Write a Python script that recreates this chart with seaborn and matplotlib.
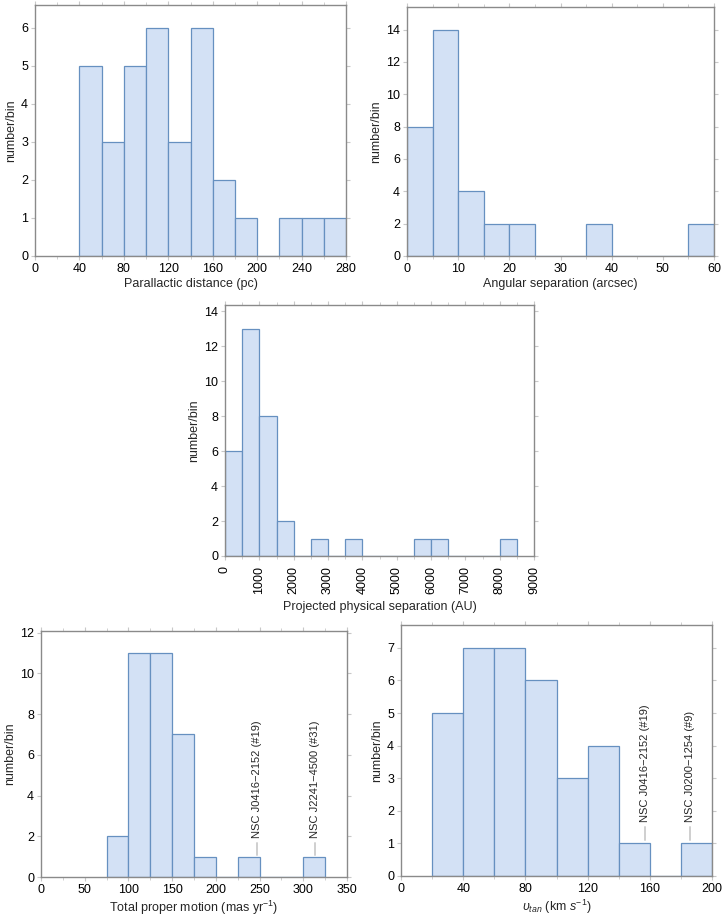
import numpy as np
import pandas as pd
import seaborn as sns
import matplotlib.pyplot as plt
from matplotlib.ticker import MultipleLocator, NullLocator

# histogram counts per bin
dist_edges = list(range(40, 281, 20))
dist_counts = [5, 3, 5, 6, 3, 6, 2, 1, 0, 1, 1, 1]

sep_edges = list(range(0, 61, 5))
sep_counts = [8, 14, 4, 2, 2, 0, 0, 2, 0, 0, 0, 2]

proj_edges = list(range(0, 8501, 500))
proj_counts = [6, 13, 8, 2, 0, 1, 0, 1, 0, 0, 0, 1, 1, 0, 0, 0, 1]

pm_edges = list(range(75, 326, 25))
pm_counts = [2, 11, 11, 7, 1, 0, 1, 0, 0, 1]

vtan_edges = list(range(20, 201, 20))
vtan_counts = [5, 7, 7, 6, 3, 4, 1, 0, 1]

# labelled objects: (x value, name)
pm_notes = [(247, "NSC J0416\u22122152 (#19)"), (313, "NSC J2241\u22124500 (#31)")]
vtan_notes = [(157, "NSC J0416\u22122152 (#19)"), (186, "NSC J0200\u22121254 (#9)")]

sns.set_theme(style="ticks")
plt.rcParams['font.family'] = ['Liberation Sans', 'DejaVu Sans']
plt.rcParams['mathtext.fontset'] = 'custom'
plt.rcParams['mathtext.rm'] = 'Liberation Sans'
plt.rcParams['mathtext.it'] = 'Liberation Sans:italic'

FILL = '#d3e1f5'
EDGE = '#6690c0'
SPINE = '#8a8a8a'
FS = 9

W, H = 725, 917
fig = plt.figure(figsize=(W / 100, H / 100), dpi=100)


def make_ax(left, top, right, bottom):
    return fig.add_axes([left / W, 1 - bottom / H, (right - left) / W, (bottom - top) / H])


def draw_hist(ax, edges, counts, xlim, ylim, xmaj, xmin, ymaj, xlabel):
    centers = [(a + b) / 2 for a, b in zip(edges[:-1], edges[1:])]
    df = pd.DataFrame({'x': centers, 'n': counts})
    sns.histplot(data=df, x='x', weights='n', bins=edges, ax=ax, color=FILL,
                 edgecolor=EDGE, linewidth=0.9, alpha=1)
    ax.set_xlim(*xlim)
    ax.set_ylim(*ylim)
    ax.xaxis.set_major_locator(MultipleLocator(xmaj))
    ax.xaxis.set_minor_locator(MultipleLocator(xmin))
    ax.yaxis.set_major_locator(MultipleLocator(ymaj))
    ax.yaxis.set_minor_locator(NullLocator())
    ax.tick_params(which='both', direction='out', top=True, right=True,
                   color='#c8c8c8', labelsize=FS, pad=2, labelcolor='black')
    ax.tick_params(which='major', length=3, width=0.8)
    ax.tick_params(which='minor', length=2, width=0.6)
    ax.tick_params(labeltop=False, labelright=False)
    for s in ax.spines.values():
        s.set_color(SPINE)
        s.set_linewidth(1.0)
        s.set_visible(True)
    ax.set_xlabel(xlabel, fontsize=FS, labelpad=2)
    ax.set_ylabel('number/bin', fontsize=FS, labelpad=3)


def add_notes(ax, notes, y0, y1, ytext):
    for x, name in notes:
        ax.plot([x, x], [y0, y1], color='#cfcfcf', lw=1.4)
        ax.text(x, ytext, name, rotation=90, ha='center', va='bottom', fontsize=8)


ax1 = make_ax(35, 5, 346, 256)
draw_hist(ax1, dist_edges, dist_counts, (0, 280), (0, 6.6), 40, 20, 1,
          'Parallactic distance (pc)')

ax2 = make_ax(407, 7, 714, 256)
draw_hist(ax2, sep_edges, sep_counts, (0, 60), (0, 15.4), 10, 5, 2,
          'Angular separation (arcsec)')

ax3 = make_ax(225, 305, 534, 556)
draw_hist(ax3, proj_edges, proj_counts, (0, 9000), (0, 14.35), 1000, 500, 2,
          'Projected physical separation (AU)')
ax3.tick_params(axis='x', labelrotation=90, pad=4)
ax3.xaxis.labelpad = 5

ax4 = make_ax(41, 631, 347, 877)
draw_hist(ax4, pm_edges, pm_counts, (0, 350), (0, 12.08), 50, 25, 2,
          'Total proper motion (mas yr$^{-1}$)')
add_notes(ax4, pm_notes, 1.08, 1.67, 1.93)

ax5 = make_ax(401, 625, 712, 876)
draw_hist(ax5, vtan_edges, vtan_counts, (0, 200), (0, 7.7), 40, 20, 1,
          r'$\upsilon_{tan}$ (km $s^{-1}$)')
add_notes(ax5, vtan_notes, 1.1, 1.51, 1.65)

fig.savefig('out.png', dpi=100)
